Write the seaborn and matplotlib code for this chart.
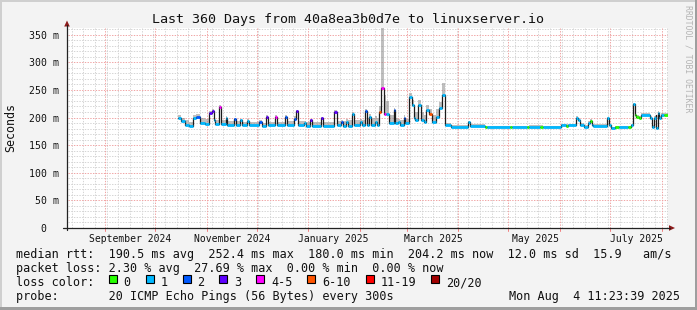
import numpy as np
import pandas as pd
import matplotlib
matplotlib.use("Agg")
import matplotlib.pyplot as plt
import seaborn as sns
from matplotlib.patches import Rectangle, Polygon
from matplotlib.lines import Line2D

sns.set_style("white")
plt.rcParams["font.family"] = ["DejaVu Sans Mono", "DejaVu Sans"]

W, H = 697, 310
start = pd.Timestamp("2024-08-09 11:23:39")
span_days = 360

# ---- data (days since start, median rtt in ms, loss class, smoke top in ms)
day = [66.48, 68.1, 70.5, 72.9, 75.0, 77.1, 79.5, 82.5, 85.08, 86.52, 87.6, 88.5,
       91.08, 92.1, 94.92, 95.7, 99.9, 101.1, 103.5, 104.7, 107.7, 108.9, 114.9, 116.4,
       118.92, 120.0, 124.5, 125.52, 130.5, 131.52, 135.6, 136.8, 138.0, 141.9, 143.1,
       145.5, 146.52, 152.1, 153.12, 160.08, 161.4, 164.28, 165.3, 167.28, 168.3, 170.7,
       171.9, 175.5, 176.52, 178.68, 179.7, 180.9, 181.92, 184.5, 185.52, 187.08, 188.28,
       189.9, 191.1, 192.9, 195.72, 196.68, 198.48, 199.5, 201.72, 202.68, 204.6, 206.7,
       207.6, 208.68, 210.12, 212.1, 213.6, 214.8, 216.6, 218.7, 220.92, 222.9, 224.88,
       226.32, 230.28, 240.12, 241.5, 250.32, 251.52, 265.5, 266.7, 275.7, 276.9, 283.5,
       285.0, 296.1, 299.1, 300.3, 304.8, 306.12, 307.5, 310.08, 312.12, 313.2, 314.52,
       315.3, 323.88, 325.08, 326.1, 328.5, 330.9, 336.3, 338.1, 339.12, 340.32, 341.28,
       343.08, 344.1, 349.68, 350.52, 351.72, 352.8, 353.1, 354.12, 355.08, 356.1, 357.9]
median_ms = [198.6, 194, 186.4, 184, 200, 201.5, 189.5, 188, 207.6, 212, 195, 188,
             219.6, 188, 200, 187, 197, 186, 195, 186, 194, 186, 192, 185,
             201.5, 186, 201.5, 186, 201.5, 187, 198, 211, 186, 190, 185,
             195.5, 185, 198.6, 185, 210.5, 186, 192.4, 185, 192, 185, 205.8,
             187, 192, 186, 211.8, 186, 201.5, 186, 192, 186, 210.5, 252.9,
             207, 207, 189.5, 213.6, 190, 192, 186, 198.6, 190, 236.5, 222.6,
             198.6, 196, 222.6, 195.5, 192.4, 213.6, 205.8, 192.4, 201, 216.6, 240.7,
             186.4, 183.4, 191, 185, 182.2, 182.2, 182.2, 182.2, 182.2, 183.4, 183.4,
             182.2, 186.4, 185, 186.4, 199.7, 195.5, 186.4, 183.4, 189.5, 194.2, 186,
             185, 198.6, 186, 180.4, 182, 182, 182, 186.4, 223.9, 204.5, 201.5,
             198.6, 204.5, 198.6, 183.4, 198.6, 204, 180.4, 207.6, 198.6, 204.5, 204.2]
loss_class = [1, 1, 1, 1, 1, 2, 1, 1, 3, 3, 1, 1,
              4, 1, 1, 1, 2, 1, 1, 1, 1, 1, 2, 1,
              3, 1, 4, 1, 2, 1, 2, 3, 1, 1, 1,
              3, 1, 3, 1, 3, 1, 2, 1, 1, 1, 1,
              1, 1, 1, 2, 1, 1, 1, 1, 1, 5, 4,
              4, 1, 1, 2, 1, 1, 1, 2, 1, 1, 1,
              1, 1, 1, 1, 1, 1, 5, 1, 1, 1, 1,
              1, 1, 1, 1, 0, 1, 0, 1, 0, 1, 0,
              1, 1, 0, 1, 1, 1, 1, 1, 1, 0, 1,
              1, 1, 1, 1, 0, 1, 0, 1, 1, 0, 0,
              0, 1, 1, 1, 1, 1, 1, 1, 1, 1, 0]
smoke_top_ms = [205, 200, 195, 192, 205, 206, 200, 198, 212, 216, 205, 195,
                222, 196, 203, 194, 200, 193, 198, 192, 197, 192, 195, 190,
                204, 192, 204, 192, 204, 194, 202, 214, 193, 194, 192,
                198, 192, 201, 192, 213, 194, 196, 193, 197, 195, 210,
                196, 198, 195, 215, 200, 206, 200, 202, 200, 220, 362,
                240, 230, 205, 218, 200, 198, 195, 205, 198, 245, 232,
                215, 210, 232, 210, 205, 222, 215, 205, 215, 228, 262,
                190, 186, 194, 188, 185, 185, 185, 185, 185, 186, 186,
                185, 189, 188, 189, 203, 200, 190, 187, 193, 197, 189,
                188, 201, 189, 183, 185, 185, 185, 189, 227, 208, 205,
                202, 208, 203, 186, 203, 207, 183, 211, 202, 208, 208]

loss_labels = ["0", "1", "2", "3", "4-5", "6-10", "11-19", "20/20"]
loss_colors = ["#26ff00", "#00b8ff", "#0059ff", "#5e00ff", "#ff00ff", "#ff5500", "#ff0000", "#a10000"]

tick_dates = ["2024-09-16", "2024-11-16", "2025-01-16", "2025-03-17", "2025-05-17", "2025-07-17"]
tick_labels = ["September 2024", "November 2024", "January 2025", "March 2025", "May 2025", "July 2025"]
ytick_vals = [0, 50, 100, 150, 200, 250, 300, 350]
ytick_labels = ["0  ", "50 m", "100 m", "150 m", "200 m", "250 m", "300 m", "350 m"]

title = "Last 360 Days from 40a8ea3b0d7e to linuxserver.io"
rtt_line = "median rtt:  190.5 ms avg  252.4 ms max  180.0 ms min  204.2 ms now  12.0 ms sd  15.9   am/s"
loss_line = "packet loss: 2.30 % avg  27.69 % max  0.00 % min  0.00 % now"
probe_line = "probe:       20 ICMP Echo Pings (56 Bytes) every 300s"
stamp_text = "Mon Aug  4 11:23:39 2025"

# ---- figure
fig = plt.figure(figsize=(W / 100, H / 100), dpi=100)
fig.patch.set_facecolor("#f3f3f3")

def fx(x):
    return x / W

def fy(y):
    return 1 - y / H

ax = fig.add_axes([fx(67.5), fy(228), 600 / W, 200 / H])
ax.set_facecolor("white")
ax.set_xlim(0, span_days)
ax.set_ylim(0, 362)
for s in ax.spines.values():
    s.set_visible(False)

def to_day(d):
    return (pd.Timestamp(d) - start).total_seconds() / 86400.0

# grid
for v in range(10, 361, 10):
    if v % 50:
        ax.axhline(v, color="#d4d4d4", lw=0.7, ls=(0, (1.4, 1.4)), zorder=0)
for v in range(50, 351, 50):
    ax.axhline(v, color="#f0a4a4", lw=0.7, ls=(0, (1.4, 1.4)), zorder=0.5)
for d in pd.date_range("2024-08-12", "2025-08-04", freq="7D"):
    ax.axvline(to_day(d), color="#d4d4d4", lw=0.7, ls=(0, (1.4, 1.4)), zorder=0)
month_days = [to_day(d) for d in pd.date_range("2024-09-01", "2025-08-01", freq="MS")]
for md in month_days:
    ax.axvline(md, color="#f0a4a4", lw=0.7, ls=(0, (1.4, 1.4)), zorder=0.5)

# data
x_ext = np.array(day + [span_days])
med_ext = np.array(median_ms + [median_ms[-1]])
top_ext = np.array(smoke_top_ms + [smoke_top_ms[-1]])

ax.fill_between(x_ext, med_ext, top_ext, step="post", color="#8c8c8c", alpha=0.55, lw=0, zorder=1)
sns.lineplot(x=x_ext, y=med_ext, drawstyle="steps-post", color="#1c1c1c", lw=0.9,
             ax=ax, estimator=None, sort=False, zorder=2)
ax.hlines(median_ms, day, list(x_ext[1:]), colors=[loss_colors[c] for c in loss_class],
          lw=2.0, zorder=3)

# ticks
ax.set_xticks([to_day(d) for d in tick_dates], tick_labels)
ax.set_yticks(ytick_vals, ytick_labels)
ax.tick_params(axis="x", length=0, pad=4.5, labelsize=7, labelcolor="#111111")
ax.tick_params(axis="y", length=2.6, width=0.8, color="#333333", pad=3.2, labelsize=7.1,
               labelcolor="#111111")
ax.set_xlabel("")
ax.set_ylabel("")

# small red marks below the time axis at month starts
for md in month_days:
    xp = 67.5 + md / span_days * 600
    fig.add_artist(Line2D([fx(xp), fx(xp)], [fy(228), fy(231)], color="#f08080", lw=0.7))

# axes lines and arrows
fig.add_artist(Line2D([fx(67), fx(67)], [fy(230), fy(25)], color="#222222", lw=0.9))
fig.add_artist(Line2D([fx(63), fx(670)], [fy(228), fy(228)], color="#222222", lw=0.9))
fig.add_artist(Polygon([(fx(64.2), fy(26.5)), (fx(69.8), fy(26.5)), (fx(67), fy(20.5))],
                       closed=True, color="#8c1a1a", lw=0))
fig.add_artist(Polygon([(fx(669), fy(225.2)), (fx(669), fy(230.8)), (fx(675), fy(228))],
                       closed=True, color="#8c1a1a", lw=0))

# texts
fig.text(fx(348), fy(23.5), title, ha="center", va="baseline", fontsize=9.6, color="#111111")
fig.text(fx(11), fy(128), "Seconds", rotation=90, ha="center", va="center", fontsize=8.4,
         color="#111111")
fig.text(fx(688), fy(59), "RRDTOOL / TOBI OETIKER", rotation=270, ha="center", va="center",
         fontsize=5.9, color="#b4b4b4")

lk = dict(va="baseline", fontsize=8.5, color="#111111")
fig.text(fx(16), fy(258), rtt_line, **lk)
fig.text(fx(16), fy(272), loss_line, **lk)
fig.text(fx(16), fy(286), "loss color:", **lk)
box_x = [109, 146, 183, 219, 256, 307, 366, 431]
lab_x = [123, 161, 197, 234, 271, 322, 381, 446]
for lab, col, bx, tx in zip(loss_labels, loss_colors, box_x, lab_x):
    fig.add_artist(Rectangle((fx(bx), fy(282.5)), 8 / W, 8 / H, facecolor=col,
                             edgecolor="black", lw=0.8))
    fig.text(fx(tx), fy(286), lab, **lk)
fig.text(fx(16), fy(300), probe_line, **lk)
fig.text(fx(680), fy(300), stamp_text, ha="right", **lk)

# frame shading
fig.add_artist(Rectangle((0, fy(2)), 1, 2 / H, facecolor="#cfcfcf", lw=0))
fig.add_artist(Rectangle((0, 0), 2 / W, 1, facecolor="#cfcfcf", lw=0))
fig.add_artist(Rectangle((0, 0), 1, 3 / H, facecolor="#9e9e9e", lw=0))
fig.add_artist(Rectangle((fx(695), 0), 2 / W, 1, facecolor="#9e9e9e", lw=0))

fig.savefig("out.png", dpi=100, facecolor=fig.get_facecolor())
